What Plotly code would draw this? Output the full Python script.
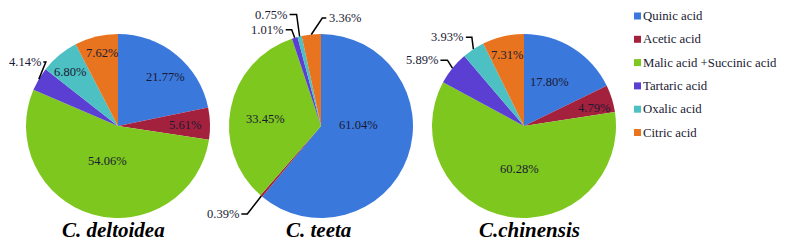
import math
import plotly.graph_objects as go

acids = ["Quinic acid", "Acetic acid", "Malic acid +Succinic acid",
         "Tartaric acid", "Oxalic acid", "Citric acid"]
colors = ["#3b78db", "#a4213d", "#7dc71e", "#5b3fd2", "#4cc0c2", "#e8741f"]

deltoidea = [21.77, 5.61, 54.06, 4.14, 6.80, 7.62]
teeta = [61.04, 0.39, 33.45, 1.01, 0.75, 3.36]
chinensis = [17.80, 4.79, 60.28, 5.89, 3.93, 7.31]

titles = ["C. deltoidea", "C. teeta", "C.chinensis"]
series = [deltoidea, teeta, chinensis]

# ---- layout / style (page pixels) ----
PAGE_W, PAGE_H = 788, 245
OFF = 8  # default body margin of the html page
W, H = PAGE_W - OFF, PAGE_H - OFF
centers = [118, 321, 524]
cy = 126
r = 92
title_x = [113, 318.5, 529.5]
title_y = 230
SERIF = "Liberation Serif"
LABEL_COLOR = "#1a1a33"

# label placement: ("in", radial fraction, angle offset deg) or
# ("out", elbow dx, elbow dy, side, horizontal length)
placement = [
    [("in", 0.74, 4.6), ("in", 0.73, 0.6), ("in", 0.40, 0.0),
     ("out", 7, -17, -1, 2.5), ("in", 0.78, -1.9), ("in", 0.81, 1.3)],
    [("in", 0.41, -21.4), ("out", -14, 18, -1, 6), ("in", 0.61, -4.3),
     ("out", -3, -8, -1, 6), ("out", -3, -22, -1, 7), ("out", 11, -16.5, 1, 4)],
    [("in", 0.55, -1.7), ("in", 0.79, 2.8), ("in", 0.47, -4.1),
     ("out", -5, -8, -1, 7), ("out", -1.5, -12, -1, 6), ("in", 0.79, -0.3)],
]


def px(x):
    return (x - OFF) / W


def py(y):
    return 1 - (y - OFF) / H


fig = go.Figure()
for i, vals in enumerate(series):
    cx = centers[i]
    fig.add_trace(go.Pie(
        labels=acids, values=vals, sort=False, direction="clockwise", rotation=0,
        textinfo="none",
        marker=dict(colors=colors, line=dict(width=0)),
        domain=dict(x=[px(cx - r), px(cx + r)], y=[py(cy + r), py(cy - r)]),
        showlegend=False, hoverinfo="label+percent",
    ))
    total = sum(vals)
    cum = 0.0
    for j, v in enumerate(vals):
        mid = (cum + v / 2) / total * 360.0
        cum += v
        txt = f"{v:.2f}%"
        p = placement[i][j]
        if p[0] == "in":
            a = math.radians(mid + p[2])
            x = cx + p[1] * r * math.sin(a)
            y = cy - p[1] * r * math.cos(a)
            fig.add_annotation(x=px(x), y=py(y), xref="paper", yref="paper",
                               text=txt, showarrow=False, borderpad=0,
                               xanchor="center", yanchor="middle",
                               font=dict(family=SERIF, size=12.5, color=LABEL_COLOR))
        else:
            a = math.radians(mid)
            ex = cx + r * math.sin(a)
            ey = cy - r * math.cos(a)
            bx, by = ex + p[1], ey + p[2]
            hx = bx + p[4] * p[3]
            fig.add_shape(type="path", xref="paper", yref="paper",
                          path=f"M {px(ex)},{py(ey)} L {px(bx)},{py(by)} L {px(hx)},{py(by)}",
                          line=dict(color="black", width=1.5))
            fig.add_annotation(x=px(hx + 1.5 * p[3]), y=py(by), xref="paper", yref="paper",
                               text=txt, showarrow=False, borderpad=0,
                               xanchor="right" if p[3] < 0 else "left", yanchor="middle",
                               font=dict(family=SERIF, size=12.5, color=LABEL_COLOR))
    fig.add_annotation(x=px(title_x[i]), y=py(title_y), xref="paper", yref="paper",
                       text=titles[i], showarrow=False,
                       xanchor="center", yanchor="middle",
                       font=dict(family=SERIF, size=21, color="#000000",
                                 style="italic", weight="bold"))

# legend
leg_x = 634
leg_y0 = 16
leg_dy = 23.3
for k, (name, col) in enumerate(zip(acids, colors)):
    yc = leg_y0 + k * leg_dy
    fig.add_shape(type="rect", xref="paper", yref="paper",
                  x0=px(leg_x), x1=px(leg_x + 7), y0=py(yc + 3.5), y1=py(yc - 3.5),
                  fillcolor=col, line=dict(width=0))
    fig.add_annotation(x=px(leg_x + 9), y=py(yc), xref="paper", yref="paper",
                       text=name, showarrow=False, xanchor="left", yanchor="middle",
                       borderpad=0, borderwidth=0,
                       font=dict(family=SERIF, size=12.8, color=LABEL_COLOR))

fig.update_layout(
    width=W, height=H, margin=dict(l=0, r=0, t=0, b=0),
    paper_bgcolor="white", plot_bgcolor="white",
    font=dict(family=SERIF),
    showlegend=False,
)
fig.write_html("out.html", config={"displayModeBar": False})
